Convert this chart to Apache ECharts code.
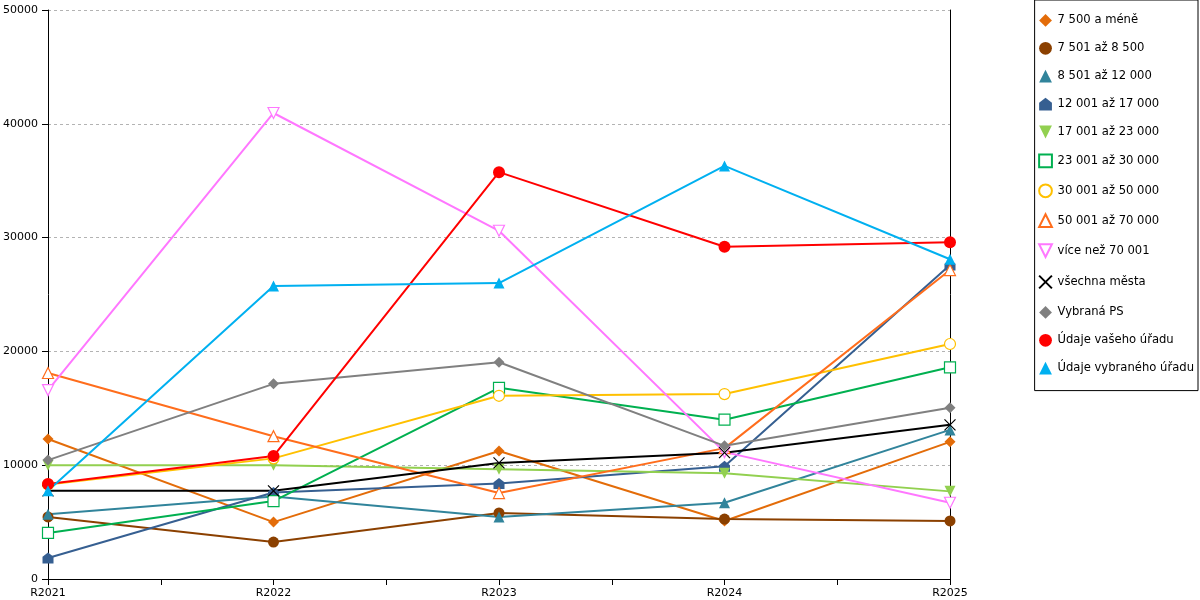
<!DOCTYPE html>
<html>
<head>
<meta charset="utf-8">
<script src="https://cdn.jsdelivr.net/npm/echarts@6/dist/echarts.min.js"></script>
<style>
  html, body { margin: 0; padding: 0; background: #fff; }
  #chart { width: 1200px; height: 600px; }
</style>
</head>
<body>
<div id="chart"></div>
<script>
// categories + tick labels
const years = ['R2021', 'R2022', 'R2023', 'R2024', 'R2025']
const yTicks = [0, 10000, 20000, 30000, 40000, 50000]

// series values
const do7500 = [12300, 5000, 11250, 5100, 12050]
const od7501 = [5450, 3250, 5800, 5270, 5100]
const od8501 = [5700, 7250, 5450, 6700, 13100]
const od12001 = [1850, 7600, 8400, 9900, 27600]
const od17001 = [10000, 10000, 9650, 9300, 7700]
const od23001 = [4050, 6850, 16800, 14000, 18600]
const od30001 = [8300, 10600, 16100, 16250, 20650]
const od50001 = [18100, 12550, 7550, 11500, 27150]
const nad70001 = [16600, 40950, 30600, 11150, 6700]
const vsechna = [7750, 7750, 10200, 11100, 13550]
const vybranaPS = [10450, 17150, 19050, 11700, 15050]
const vasUrad = [8350, 10800, 35750, 29200, 29600]
const vybranyUrad = [7750, 25750, 26000, 36300, 28100]

const pentagon = 'path://M5,0L10,4L10,10L0,10L0,4Z'
const downTri = 'path://M0,0L10,0L5,10Z'
const cross = 'path://M0,0L10,10M10,0L0,10'

function line (name, data, color, symbol, opts) {
  opts = opts || {}
  return {
    name: name,
    type: 'line',
    data: data.map((v, i) => [i, v]),
    symbol: symbol,
    symbolSize: opts.size || 11,
    showSymbol: true,
    lineStyle: { color: color, width: 2 },
    itemStyle: opts.hollow
      ? { color: opts.fill || '#fff', borderColor: color, borderWidth: 1.2 }
      : { color: color, borderWidth: 0 },
    emphasis: { disabled: true },
    animation: false
  }
}

const chart = echarts.init(document.getElementById('chart'))
window.onresize = () => chart.resize()

const series = [
  line('7 500 a méně', do7500, '#e36c09', 'diamond'),
  line('7 501 až 8 500', od7501, '#8b4000', 'circle'),
  line('8 501 až 12 000', od8501, '#31849b', 'triangle'),
  line('12 001 až 17 000', od12001, '#365f91', pentagon),
  line('17 001 až 23 000', od17001, '#92d050', downTri),
  line('23 001 až 30 000', od23001, '#00b050', 'rect', { hollow: true }),
  line('30 001 až 50 000', od30001, '#ffc000', 'circle', { hollow: true }),
  line('50 001 až 70 000', od50001, '#ff6d1c', 'triangle', { hollow: true }),
  line('více než 70 001', nad70001, '#ff77ff', downTri, { hollow: true }),
  line('všechna města', vsechna, '#000000', cross, { hollow: true, fill: 'none' }),
  line('Vybraná PS', vybranaPS, '#808080', 'diamond'),
  line('Údaje vašeho úřadu', vasUrad, '#ff0000', 'circle', { size: 12 }),
  line('Údaje vybraného úřadu', vybranyUrad, '#00b0f0', 'triangle')
]

const option = {
  textStyle: { fontFamily: 'DejaVu Sans' },
  grid: { left: 48, right: 250, top: 10, bottom: 21, outerBoundsMode: 'none' },
  legend: {
    orient: 'vertical',
    right: 2,
    top: 0,
    padding: [14, 4, 16, 2],
    itemGap: 15.1,
    itemWidth: 14,
    itemHeight: 16,
    lineStyle: { width: 0, opacity: 0 },
    borderColor: '#000',
    borderWidth: 1,
    textStyle: { fontSize: 11.6, color: '#000', fontFamily: 'DejaVu Sans' },
    data: series.map(s => s.name)
  },
  xAxis: {
    type: 'value',
    min: 0,
    max: years.length - 1,
    interval: 0.5,
    axisLine: { lineStyle: { color: '#000', width: 1 } },
    axisTick: { show: true, length: 6, lineStyle: { color: '#000' } },
    splitLine: { show: false },
    axisLabel: {
      color: '#000',
      fontSize: 11,
      margin: 9,
      formatter: v => (Number.isInteger(v) ? years[v] : '')
    }
  },
  yAxis: [
    {
      type: 'value',
      min: yTicks[0],
      max: yTicks[yTicks.length - 1],
      interval: 10000,
      axisLine: { show: true, lineStyle: { color: '#000' } },
      axisTick: { show: true, length: 6, lineStyle: { color: '#000' } },
      axisLabel: { color: '#000', fontSize: 11, margin: 10, formatter: v => String(v) },
      splitLine: { show: true, lineStyle: { color: '#b3b3b3', type: [3, 3], width: 1 } }
    },
    {
      type: 'value',
      position: 'right',
      min: 0,
      max: 50000,
      interval: 10000,
      axisLine: { show: true, lineStyle: { color: '#000' } },
      axisTick: { show: false },
      axisLabel: { show: false },
      splitLine: { show: false }
    }
  ],
  series: series
}
chart.setOption(option)
</script>
</body>
</html>
